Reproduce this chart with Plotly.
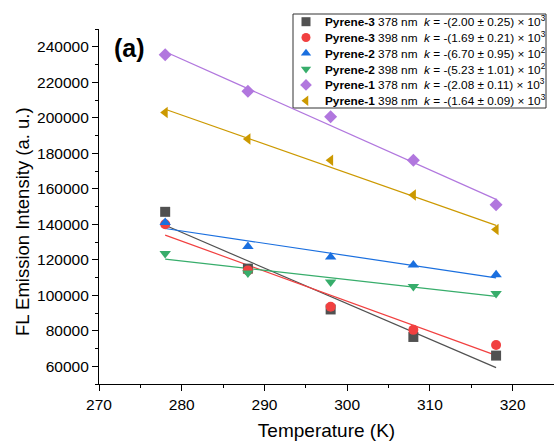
import numpy as np
import plotly.graph_objects as go

temperature = [278, 288, 298, 308, 318]

pyrene3_378 = [147000, 115000, 92000, 76500, 66000]
pyrene3_398 = [140000, 114000, 93500, 80500, 72000]
pyrene2_378 = [141000, 127500, 121500, 117000, 111500]
pyrene2_398 = [123500, 112500, 107500, 105000, 101000]
pyrene1_378 = [235500, 215000, 200500, 176000, 151000]
pyrene1_398 = [203000, 188000, 176000, 156500, 137000]

names = ["Pyrene-3", "Pyrene-3", "Pyrene-2", "Pyrene-2", "Pyrene-1", "Pyrene-1"]
waves = ["378 nm", "398 nm", "378 nm", "398 nm", "378 nm", "398 nm"]
k_labels = ["-(2.00 ± 0.25) × 10<sup>3</sup>", "-(1.69 ± 0.21) × 10<sup>3</sup>",
            "-(6.70 ± 0.95) × 10<sup>2</sup>", "-(5.23 ± 1.01) × 10<sup>2</sup>",
            "-(2.08 ± 0.11) × 10<sup>3</sup>", "-(1.64 ± 0.09) × 10<sup>3</sup>"]
series = [pyrene3_378, pyrene3_398, pyrene2_378, pyrene2_398, pyrene1_378, pyrene1_398]
colors = ["#515151", "#F14040", "#1A6FDF", "#37AD6B", "#B177DE", "#CC9900"]
symbols = ["square", "circle", "triangle-up", "triangle-down", "diamond", "triangle-left"]

# layout geometry (pixels)
W, H = 554, 441
ML, MR, MT, MB = 99, 0, 8, 57
AXIS_TOP = 29
PW, PH = W - ML - MR, H - MT - MB


def fx(px):
    return (px - ML) / PW


def fy(py):
    return (H - MB - py) / PH


fig = go.Figure()
# fit lines
for vals, c in zip(series, colors):
    p = np.polyfit(temperature, vals, 1)
    xs = [temperature[0], temperature[-1]]
    fig.add_trace(go.Scatter(x=xs, y=np.polyval(p, xs), mode="lines",
                             line=dict(color=c, width=1.2), showlegend=False,
                             hoverinfo="skip"))
# markers
for vals, c, s in zip(series, colors, symbols):
    fig.add_trace(go.Scatter(x=temperature, y=vals, mode="markers",
                             marker=dict(color=c, symbol=s, size=10, line=dict(width=0)),
                             showlegend=False))

# custom compact legend
row0, row_gap = 21.7, 15.8
key_x, text_x = 306, 323
rows_y = [fy(row0 + i * row_gap) for i in range(len(series))]
fig.add_trace(go.Scatter(x=[fx(key_x)] * len(series), y=rows_y, mode="markers",
                         xaxis="x2", yaxis="y2", cliponaxis=False,
                         marker=dict(color=colors, symbol=symbols, size=9, line=dict(width=0)),
                         showlegend=False, hoverinfo="skip"))

annotations = [dict(text="<b>(a)</b>", x=fx(112), y=fy(48), xref="paper", yref="paper",
                    xanchor="left", yanchor="middle", showarrow=False,
                    font=dict(size=25, color="black")),
               dict(text="FL Emission Intensity (a. u.)", x=fx(22), y=fy(222),
                    xref="paper", yref="paper", textangle=-90, showarrow=False,
                    xanchor="center", yanchor="middle", font=dict(size=18.5, color="black"))]
for n, w, k, yy in zip(names, waves, k_labels, rows_y):
    annotations.append(dict(text=f"<b>{n}</b> {w}  <i>k</i> = {k}", x=fx(text_x), y=yy,
                            xref="paper", yref="paper", xanchor="left", yanchor="middle",
                            showarrow=False, font=dict(size=11.8, color="black")))

fig.update_layout(
    width=W, height=H,
    margin=dict(l=ML, r=MR, t=MT, b=MB),
    paper_bgcolor="white", plot_bgcolor="rgba(0,0,0,0)",
    font=dict(family="Liberation Sans, Arial, sans-serif", color="black"),
    showlegend=False,
    annotations=annotations,
    shapes=[dict(type="rect", xref="paper", yref="paper", x0=fx(293), x1=fx(546),
                 y0=fy(14), y1=fy(108), line=dict(color="#333333", width=1),
                 fillcolor="white", layer="below")],
    xaxis2=dict(domain=[0, 1], anchor="y2", range=[0, 1], visible=False, fixedrange=True),
    yaxis2=dict(domain=[0, 1], anchor="x2", range=[0, 1], visible=False, fixedrange=True),
)
fig.layout.xaxis.update(range=[270, 325], tickvals=[270, 280, 290, 300, 310, 320],
                        domain=[0, 1], anchor="y",
                        showgrid=False, zeroline=False, showline=True, linecolor="black",
                        linewidth=1.2, ticks="outside", ticklen=6, tickcolor="black",
                        tickfont=dict(size=15.5), automargin=False,
                        minor=dict(dtick=5, tick0=270, ticks="outside", ticklen=3, tickcolor="black"),
                        title=dict(text="Temperature (K)", font=dict(size=19), standoff=14))
fig.layout.yaxis.update(range=[50000, 250000], tickvals=list(range(60000, 240001, 20000)),
                        domain=[0, fy(AXIS_TOP)], anchor="x",
                        showgrid=False, zeroline=False, showline=True, linecolor="black",
                        linewidth=1.2, ticks="outside", ticklen=6, tickcolor="black",
                        tickfont=dict(size=15.5), tickformat="d", automargin=False,
                        minor=dict(dtick=10000, tick0=50000, ticks="outside", ticklen=3, tickcolor="black"))

fig.write_html("out.html")
